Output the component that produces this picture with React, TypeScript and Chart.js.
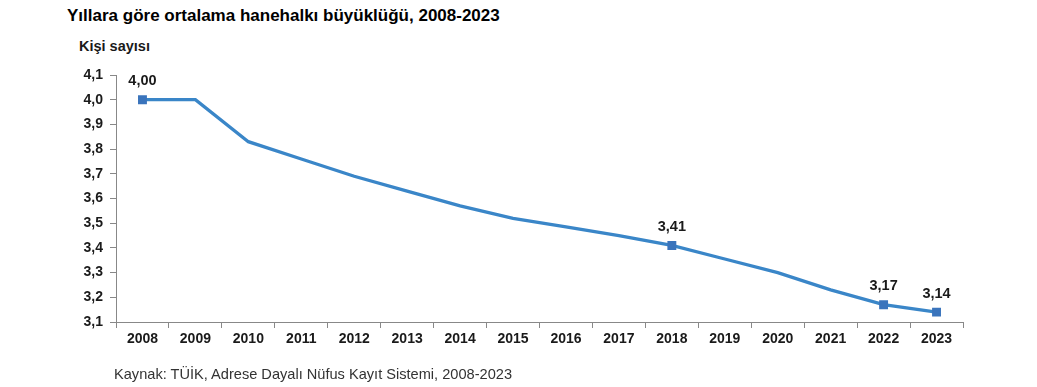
import React, { useEffect, useRef } from "react";
import { Chart, registerables } from "chart.js";

Chart.register(...registerables);

const years = ["2008","2009","2010","2011","2012","2013","2014","2015","2016","2017","2018","2019","2020","2021","2022","2023"];
const householdSize = [4.0, 4.0, 3.83, 3.76, 3.69, 3.63, 3.57, 3.52, 3.485, 3.45, 3.41, 3.355, 3.30, 3.23, 3.17, 3.14];
const labeledIdx = [0, 10, 14, 15];
const labelTexts = ["4,00", "3,41", "3,17", "3,14"];

const FONT = "'Liberation Sans', Arial, sans-serif";

const labelPlugin = {
  id: "pointLabels",
  afterDatasetsDraw(chart: any) {
    const ctx = chart.ctx;
    const meta = chart.getDatasetMeta(0);
    ctx.save();
    ctx.font = `bold 14.5px ${FONT}`;
    ctx.fillStyle = "#1a1a1a";
    ctx.textAlign = "center";
    ctx.textBaseline = "middle";
    labeledIdx.forEach((idx, k) => {
      const p = meta.data[idx];
      ctx.fillText(labelTexts[k], p.x, p.y - 18.5);
    });
    ctx.restore();
  },
};

export default function App() {
  const ref = useRef<HTMLCanvasElement>(null);
  useEffect(() => {
    const chart = new Chart(ref.current!, {
      type: "line",
      data: {
        labels: years,
        datasets: [
          {
            data: householdSize,
            borderColor: "#3A86C8",
            borderWidth: 3.3,
            tension: 0,
            pointStyle: "rect",
            pointRadius: householdSize.map((_, i) => (labeledIdx.includes(i) ? 6.3 : 0)),
            pointBackgroundColor: "#3A74BC",
            pointBorderColor: "#3A74BC",
            pointBorderWidth: 0,
          },
        ],
      },
      options: {
        animation: false,
        responsive: false,
        layout: { padding: { left: 0, right: 74, top: 75, bottom: 0 } },
        plugins: { legend: { display: false }, tooltip: { enabled: false } },
        scales: {
          x: {
            offset: true,
            afterFit: (s: any) => { s.height = 65; },
            grid: { display: true, drawOnChartArea: false, offset: true, tickLength: 6, color: "#888888" },
            border: { color: "#888888", width: 1 },
            ticks: { color: "#1a1a1a", font: { family: FONT, size: 14, weight: "bold" }, padding: 3, maxRotation: 0 },
          },
          y: {
            min: 3.1,
            max: 4.1,
            afterFit: (s: any) => { s.width = 116; },
            grid: { display: true, drawOnChartArea: false, tickLength: 6, color: "#888888" },
            border: { color: "#888888", width: 1 },
            ticks: {
              stepSize: 0.1,
              color: "#1a1a1a",
              font: { family: FONT, size: 14, weight: "bold" },
              padding: 7,
              callback: (v: any) => Number(v).toFixed(1).replace(".", ","),
            },
          },
        },
      },
      plugins: [labelPlugin],
    });
    return () => chart.destroy();
  }, []);

  return (
    <div style={{ position: "absolute", left: 0, top: 0, width: 1037, height: 387, background: "#fff", fontFamily: FONT }}>
      <div style={{ position: "absolute", left: 67, top: 6, fontSize: 17, fontWeight: "bold", color: "#000", whiteSpace: "nowrap" }}>
        Yıllara göre ortalama hanehalkı büyüklüğü, 2008-2023
      </div>
      <div style={{ position: "absolute", left: 79, top: 38, fontSize: 14.5, fontWeight: "bold", color: "#1a1a1a", whiteSpace: "nowrap" }}>
        Kişi sayısı
      </div>
      <canvas ref={ref} width={1037} height={387} style={{ position: "absolute", left: 0, top: 0 }} />
      <div style={{ position: "absolute", left: 114, top: 366, fontSize: 14.6, color: "#333", whiteSpace: "nowrap" }}>
        Kaynak: TÜİK, Adrese Dayalı Nüfus Kayıt Sistemi, 2008-2023
      </div>
    </div>
  );
}
